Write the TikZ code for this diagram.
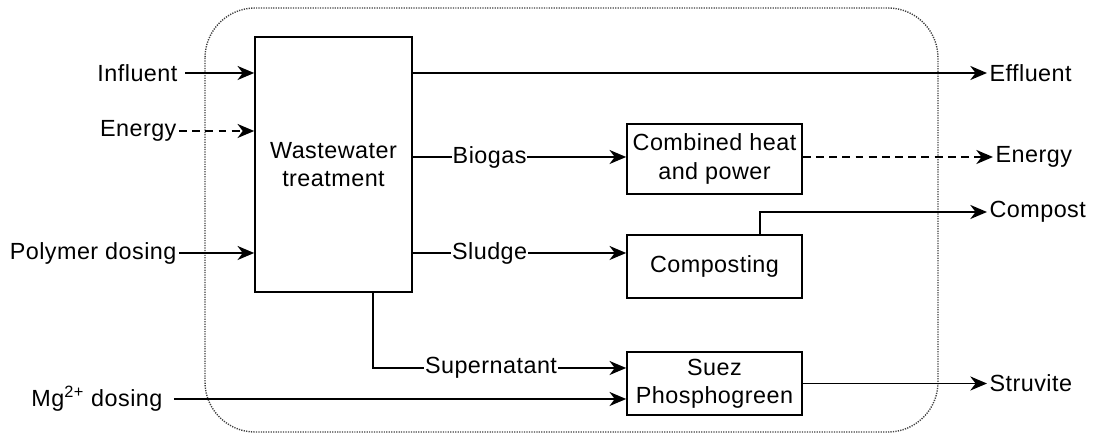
\documentclass[tikz,border=0pt]{standalone}
\usepackage{fontspec}
\setmainfont{Liberation Sans}[LetterSpace=2]
\usetikzlibrary{arrows.meta,calc}
\begin{document}
\begin{tikzpicture}[x=0.02cm,y=-0.02cm,
 font=\fontsize{13.3}{16}\selectfont,
 line width=0.95pt,
 arr/.style={-{Stealth[length=9.5pt,width=8pt,inset=3pt]}},
 dsh/.style={dash pattern=on 4.5pt off 3pt},
 box/.style={draw, align=center, inner sep=0pt},
 lbl/.style={inner sep=1pt},
 tag/.style={fill=white, inner sep=0.5pt}]
\useasboundingbox (0,0) rectangle (1100,438);
\draw[line width=0.8pt, dash pattern=on 0.7pt off 0.7pt, rounded corners=1cm, black!75] (205,8) rectangle (938,432);

\node[box, minimum width=3.14cm, minimum height=5.1cm] (ww) at (333.5,164.5) {Wastewater\\treatment};
\node[box, minimum width=3.5cm, minimum height=1.4cm] (chp) at (714.5,159) {Combined heat\\and power};
\node[box, minimum width=3.5cm, minimum height=1.26cm] (comp) at (714.5,266.5) {Composting};
\node[box, minimum width=3.5cm, minimum height=1.26cm] (suez) at (714.5,383.5) {Suez\\Phosphogreen};

\node[lbl, anchor=east] (infl) at (180,73) {Influent};
\node[lbl, anchor=east] (enin) at (179,131) {Energy};
\node[lbl, anchor=east] (poly) at (179,253) {Polymer dosing};
\node[lbl, anchor=east] (mg) at (165,399) {Mg\textsuperscript{2+} dosing};
\node[lbl, anchor=west] (effl) at (987,73) {Effluent};
\node[lbl, anchor=west] (enout) at (993,157) {Energy};
\node[lbl, anchor=west] (compost) at (987,212) {Compost};
\node[lbl, anchor=west] (struv) at (987,383.5) {Struvite};

\draw[arr] ([xshift=3pt]infl.east) -- (infl -| ww.west);
\draw[arr, dsh] (enin.east) -- (enin -| ww.west);
\draw[arr] (poly.east) -- (poly -| ww.west);
\draw[arr] ([xshift=5pt]mg.east) -- (mg -| suez.west);
\draw[arr] (ww.east |- effl) -- (effl.west);
\draw[arr] (ww.east |- enout) -- node[tag, pos=0.36]{Biogas} (chp.west |- enout);
\draw[arr] (ww.east |- poly) -- node[tag, pos=0.36]{Sludge} (comp.west |- poly);
\draw[arr, dsh] (chp.east |- enout) -- (enout.west);
\coordinate (cup) at (760,212);
\draw[arr] (comp.north -| cup) |- (compost.west);
\coordinate (sup) at (373,368);
\draw[arr] (ww.south -| sup) |- (suez.west |- sup);
\node[tag] (suplbl) at (491,368) {Supernatant};
\draw[arr] (suez.east) -- (suez.east -| struv.west);
\end{tikzpicture}
\end{document}
